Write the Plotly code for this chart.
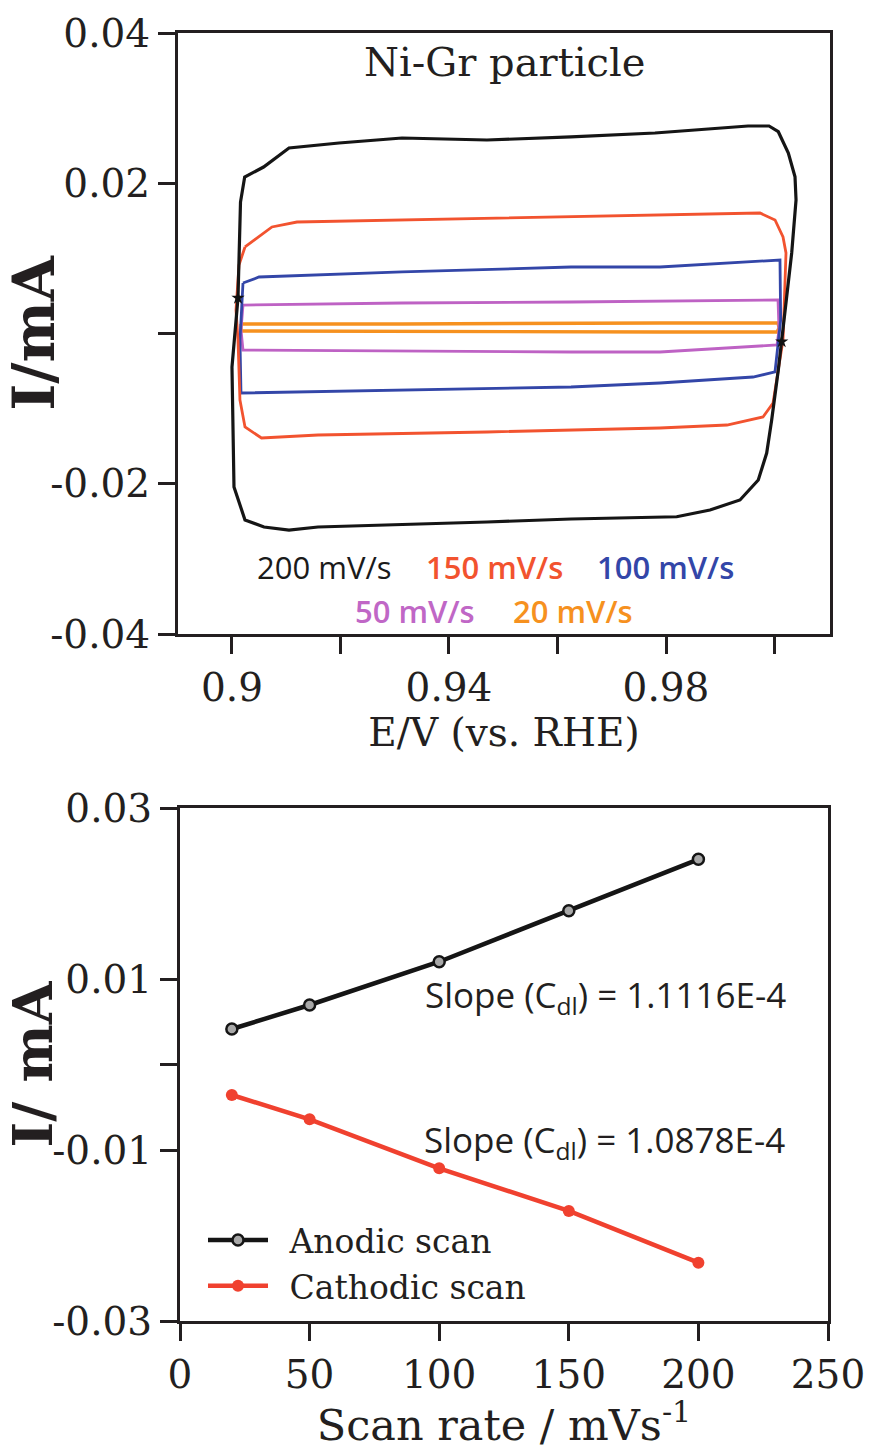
import plotly.graph_objects as go

# ---------------- Top panel: cyclic voltammograms (Ni-Gr particle) ----------------
E_200 = [0.90111, 0.90157, 0.90234, 0.90582, 0.91051, 0.91972, 0.93134, 0.94700, 0.96249, 0.97797,
         0.99512, 0.99899, 1.00070, 1.00255, 1.00378, 1.00397, 1.00317, 1.00225, 1.00133, 1.00070,
         0.99948, 0.99856, 0.99701, 0.99364, 0.98811, 0.98197, 0.96249, 0.94700, 0.91585, 0.91051,
         0.90590, 0.90240, 0.90037, 0.90000, 0.90111]
I_200 = [0.00473, 0.01750, 0.02083, 0.02216, 0.02469, 0.02536, 0.02602, 0.02576, 0.02616, 0.02669,
         0.02762, 0.02762, 0.02686, 0.02403, 0.02087, 0.01777, 0.01072, 0.00490, -0.00109, -0.00486,
         -0.01151, -0.01591, -0.01950, -0.02216, -0.02349, -0.02439, -0.02469, -0.02509, -0.02576, -0.02616,
         -0.02576, -0.02482, -0.02043, -0.00446, 0.00473]

E_150 = [0.90240, 0.90737, 0.91198, 0.93134, 0.96249, 0.97889, 0.99733, 1.00010, 1.00157, 1.00212,
         1.00157, 0.99973, 0.99788, 0.99124, 0.97889, 0.94700, 0.91585, 0.90544, 0.90240, 0.90147,
         0.90111, 0.90074, 0.90129, 0.90240]
I_150 = [0.01152, 0.01418, 0.01484, 0.01511, 0.01551, 0.01577, 0.01604, 0.01511, 0.01285, 0.01072,
         -0.00086, -0.00925, -0.01111, -0.01218, -0.01258, -0.01311, -0.01351, -0.01391, -0.01245, -0.00885,
         -0.00086, 0.00313, 0.00912, 0.01152]

E_100 = [0.90203, 0.90498, 0.93134, 0.96249, 0.97889, 1.00101, 1.00114, 1.00009, 0.99604, 0.97889,
         0.96249, 0.93134, 0.90166, 0.90147, 0.90203]
I_100 = [0.00672, 0.00752, 0.00819, 0.00885, 0.00885, 0.00978, 0.00180, -0.00512, -0.00579, -0.00659,
         -0.00712, -0.00752, -0.00792, -0.00086, 0.00672]

E_50 = [0.90203, 0.93134, 0.96249, 1.00065, 1.00083, 1.00046, 0.97889, 0.96249, 0.90203, 0.90166, 0.90203]
I_50 = [0.00379, 0.00406, 0.00419, 0.00446, 0.00047, -0.00153, -0.00246, -0.00246, -0.00220, 0.00047, 0.00379]

E_20 = [0.90166, 0.93134, 0.97889, 1.00065, 1.00083, 1.00046, 0.97889, 0.93134, 0.90166, 0.90166]
I_20 = [0.00127, 0.00127, 0.00140, 0.00140, 0.00073, 0.00020, 0.00020, 0.00033, 0.00033, 0.00127]

star_E = [0.90111, 1.00133]
star_I = [0.00473, -0.00109]

scan_labels = ["200 mV/s", "150 mV/s", "100 mV/s", "50 mV/s", "20 mV/s"]
line_colors = ["#151515", "#F2532F", "#3346A8", "#BE62C4", "#F6911F"]
text_colors = ["#1a1a1a", "#F2532F", "#3346A8", "#C067C6", "#F6911F"]

top_x_ticks = [0.90, 0.94, 0.98]
top_x_minor = [0.92, 0.96, 1.00]
top_y_ticks = [-0.04, -0.02, 0.02, 0.04]
top_y_minor = [0.0]

# ---------------- Bottom panel: current vs scan rate ----------------
scan_rate = [20, 50, 100, 150, 200]
I_anodic = [0.00415, 0.00696, 0.01202, 0.01799, 0.02400]
I_cathodic = [-0.00357, -0.00641, -0.01214, -0.01713, -0.02318]
slope_anodic = "1.1116E-4"
slope_cathodic = "1.0878E-4"
series_names = ["Anodic scan", "Cathodic scan"]

bot_x_ticks = [0, 50, 100, 150, 200, 250]
bot_y_ticks = [-0.03, -0.01, 0.01, 0.03]
bot_y_minor = [0.0]

INK = "#231f20"
SERIF = "DejaVu Serif"
SANS = "Open Sans"
GAP = "\u2002"  # small gap between legend symbol and its text

fig = go.Figure()

cv_sets = [(E_20, I_20, 4), (E_50, I_50, 3), (E_100, I_100, 2), (E_150, I_150, 1), (E_200, I_200, 0)]
for E, I, k in cv_sets:
    fig.add_trace(go.Scatter(
        x=E, y=I, mode="lines", name=scan_labels[k], showlegend=False,
        line=dict(color=line_colors[k], width=3.2 if k == 0 else (3.4 if k == 4 else 2.8)),
        xaxis="x", yaxis="y"))

fig.add_trace(go.Scatter(
    x=star_E, y=star_I, mode="markers", showlegend=False,
    marker=dict(symbol="star", size=10, color="#111111"),
    xaxis="x", yaxis="y"))

fig.add_trace(go.Scatter(
    x=scan_rate, y=I_anodic, mode="lines+markers", name=GAP + series_names[0],
    line=dict(color="#151515", width=4.5),
    marker=dict(symbol="circle", size=11, color="#a8a8a8", line=dict(color="#151515", width=2.5)),
    xaxis="x2", yaxis="y2"))
fig.add_trace(go.Scatter(
    x=scan_rate, y=I_cathodic, mode="lines+markers", name=GAP + series_names[1],
    line=dict(color="#F0412F", width=4.5),
    marker=dict(symbol="circle", size=12, color="#F0412F"),
    xaxis="x2", yaxis="y2"))

W, H = 881, 1450


def axis(ticks, minor=None, **kw):
    d = dict(showline=True, linewidth=3, linecolor=INK, mirror=True,
             ticks="outside", ticklen=17, tickwidth=3, tickcolor=INK,
             showgrid=False, zeroline=False, automargin=False,
             tickmode="array", tickvals=ticks,
             tickfont=dict(family=SERIF, size=39, color=INK))
    if minor:
        d["minor"] = dict(tickmode="array", tickvals=minor, ticks="outside",
                          ticklen=17, tickwidth=3, tickcolor=INK, showgrid=False)
    d.update(kw)
    return d


fig.update_layout(
    width=W, height=H,
    margin=dict(l=0, r=0, t=0, b=0),
    paper_bgcolor="white", plot_bgcolor="white",
    xaxis=axis(top_x_ticks, top_x_minor, domain=[178 / W, 830 / W], range=[0.89005, 1.01023], anchor="y",
               ticktext=["0.9", "0.94", "0.98"],
               title=dict(text="E/V (vs. RHE)", font=dict(family=SERIF, size=39, color=INK), standoff=10)),
    yaxis=axis(top_y_ticks, top_y_minor, domain=[1 - 634 / H, 1 - 33 / H], range=[-0.04, 0.04], anchor="x",
               ticktext=["-0.04", "-0.02", "0.02", "0.04"],
               title=dict(text="I/mA", font=dict(family=SERIF, size=58, color=INK, weight="bold"), standoff=4)),
    xaxis2=axis(bot_x_ticks, None, domain=[180 / W, 828 / W], range=[0, 250], anchor="y2",
                ticktext=["%g" % v for v in bot_x_ticks],
                title=dict(text="Scan rate / mVs<sup>-1</sup>", font=dict(family=SERIF, size=43, color=INK), standoff=9)),
    yaxis2=axis(bot_y_ticks, bot_y_minor, domain=[1 - 1321 / H, 1 - 808 / H], range=[-0.03, 0.03], anchor="x2",
                ticktext=["-0.03", "-0.01", "0.01", "0.03"],
                title=dict(text="I/ mA", font=dict(family=SERIF, size=55, color=INK, weight="bold"), standoff=4)),
    legend=dict(x=203 / W, y=1 - 1212 / H, xanchor="left", yanchor="top",
                bgcolor="rgba(0,0,0,0)", itemwidth=60, tracegroupgap=0,
                font=dict(family=SERIF, size=33, color=INK)),
)

annotations = [
    dict(x=0.95032, y=0.0362, xref="x", yref="y", text="Ni-Gr particle", showarrow=False,
         font=dict(family=SERIF, size=40, color=INK)),
    dict(x=0.91714, y=-0.03108, xref="x", yref="y", text=scan_labels[0], showarrow=False,
         font=dict(family=SANS, size=31, color=text_colors[0], weight=500)),
    dict(x=0.94848, y=-0.03108, xref="x", yref="y", text=scan_labels[1], showarrow=False,
         font=dict(family=SANS, size=31, color=text_colors[1], weight=600)),
    dict(x=0.97982, y=-0.03108, xref="x", yref="y", text=scan_labels[2], showarrow=False,
         font=dict(family=SANS, size=31, color=text_colors[2], weight=600)),
    dict(x=0.93373, y=-0.03694, xref="x", yref="y", text=scan_labels[3], showarrow=False,
         font=dict(family=SANS, size=31, color=text_colors[3], weight=600)),
    dict(x=0.96286, y=-0.03694, xref="x", yref="y", text=scan_labels[4], showarrow=False,
         font=dict(family=SANS, size=31, color=text_colors[4], weight=600)),
    dict(x=164.2, y=0.00801, xref="x2", yref="y2",
         text="Slope (C<sub>dl</sub>) = " + slope_anodic, showarrow=False,
         font=dict(family=SANS, size=35, color=INK)),
    dict(x=163.8, y=-0.00895, xref="x2", yref="y2",
         text="Slope (C<sub>dl</sub>) = " + slope_cathodic, showarrow=False,
         font=dict(family=SANS, size=35, color=INK)),
]
fig.update_layout(annotations=annotations)

fig.write_html("out.html")
